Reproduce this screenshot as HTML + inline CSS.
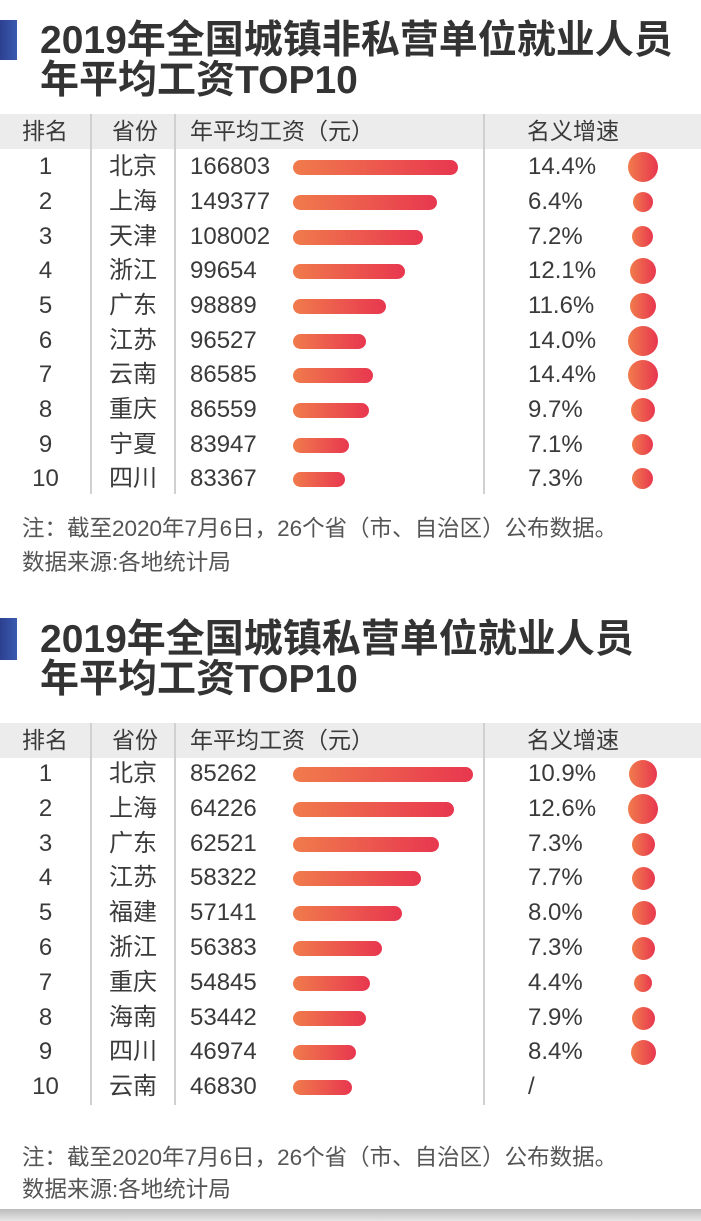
<!DOCTYPE html>
<html><head><meta charset="utf-8"><style>
body{margin:0;width:701px;height:1221px;background:#fff;position:relative;overflow:hidden;font-family:"Liberation Sans","Noto Sans CJK SC",sans-serif;color:#3a3a3a}
.a{position:absolute}
.tb{position:absolute;left:0;width:17px;background:linear-gradient(90deg,#2d3f8f,#3a5bb0)}
.tt{position:absolute;left:40px;font-size:39px;font-weight:bold;line-height:40px;color:#333;letter-spacing:0px}
.hd{position:absolute;left:0;width:701px;height:35px;background:#ececec;font-size:23px;line-height:35px}
.vl{position:absolute;width:2px;background:#d0d0d0}
.r{position:absolute;left:0;width:701px;height:34px;line-height:34px;font-size:24px}
.r span{position:absolute;top:0}
.rk{left:0;width:91px;text-align:center}
.pv{left:91px;width:84px;text-align:center}
.nm{left:190px}
.pc{left:528px}
.bar{position:absolute;top:10px;left:293px;height:15px;border-radius:8px;background:linear-gradient(90deg,#f07b4c,#e8374f)}
.c{position:absolute;border-radius:50%;background:linear-gradient(90deg,#f07b4c,#e8374f)}
.nt{position:absolute;left:22px;font-size:22.5px;color:#555;line-height:26px}
</style></head><body>
<div class="tb" style="top:20px;height:40px"></div>
<div class="tt" style="top:21px">2019年全国城镇非私营单位就业人员<br>年平均工资TOP10</div>
<div class="hd" style="top:114px"><span class="a" style="left:22px">排名</span><span class="a" style="left:112px">省份</span><span class="a" style="left:190px">年平均工资（元）</span><span class="a" style="left:527px">名义增速</span></div>
<div class="vl" style="left:90px;top:114px;height:380px"></div>
<div class="vl" style="left:174px;top:114px;height:380px"></div>
<div class="vl" style="left:483px;top:114px;height:380px"></div>

<div class="r" style="top:150px"><span class="rk">1</span><span class="pv">北京</span><span class="nm">166803</span><div class="bar" style="width:165px"></div><span class="pc">14.4%</span><div class="c" style="left:628px;top:2px;width:30px;height:30px"></div></div>
<div class="r" style="top:185px"><span class="rk">2</span><span class="pv">上海</span><span class="nm">149377</span><div class="bar" style="width:144px"></div><span class="pc">6.4%</span><div class="c" style="left:633px;top:7px;width:20px;height:20px"></div></div>
<div class="r" style="top:220px"><span class="rk">3</span><span class="pv">天津</span><span class="nm">108002</span><div class="bar" style="width:130px"></div><span class="pc">7.2%</span><div class="c" style="left:632px;top:6px;width:21px;height:21px"></div></div>
<div class="r" style="top:254px"><span class="rk">4</span><span class="pv">浙江</span><span class="nm">99654</span><div class="bar" style="width:112px"></div><span class="pc">12.1%</span><div class="c" style="left:630px;top:4px;width:26px;height:26px"></div></div>
<div class="r" style="top:289px"><span class="rk">5</span><span class="pv">广东</span><span class="nm">98889</span><div class="bar" style="width:93px"></div><span class="pc">11.6%</span><div class="c" style="left:630px;top:4px;width:26px;height:26px"></div></div>
<div class="r" style="top:324px"><span class="rk">6</span><span class="pv">江苏</span><span class="nm">96527</span><div class="bar" style="width:73px"></div><span class="pc">14.0%</span><div class="c" style="left:628px;top:2px;width:30px;height:30px"></div></div>
<div class="r" style="top:358px"><span class="rk">7</span><span class="pv">云南</span><span class="nm">86585</span><div class="bar" style="width:80px"></div><span class="pc">14.4%</span><div class="c" style="left:628px;top:2px;width:30px;height:30px"></div></div>
<div class="r" style="top:393px"><span class="rk">8</span><span class="pv">重庆</span><span class="nm">86559</span><div class="bar" style="width:76px"></div><span class="pc">9.7%</span><div class="c" style="left:631px;top:5px;width:24px;height:24px"></div></div>
<div class="r" style="top:428px"><span class="rk">9</span><span class="pv">宁夏</span><span class="nm">83947</span><div class="bar" style="width:56px"></div><span class="pc">7.1%</span><div class="c" style="left:632px;top:6px;width:21px;height:21px"></div></div>
<div class="r" style="top:462px"><span class="rk">10</span><span class="pv">四川</span><span class="nm">83367</span><div class="bar" style="width:52px"></div><span class="pc">7.3%</span><div class="c" style="left:632px;top:6px;width:21px;height:21px"></div></div>

<div class="nt" style="top:516px">注：截至2020年7月6日，26个省（市、自治区）公布数据。</div>
<div class="nt" style="top:550px">数据来源:各地统计局</div>

<div class="tb" style="top:618px;height:42px"></div>
<div class="tt" style="top:620px">2019年全国城镇私营单位就业人员<br>年平均工资TOP10</div>
<div class="hd" style="top:723px"><span class="a" style="left:22px">排名</span><span class="a" style="left:112px">省份</span><span class="a" style="left:190px">年平均工资（元）</span><span class="a" style="left:527px">名义增速</span></div>
<div class="vl" style="left:90px;top:723px;height:382px"></div>
<div class="vl" style="left:174px;top:723px;height:382px"></div>
<div class="vl" style="left:483px;top:723px;height:382px"></div>

<div class="r" style="top:757px"><span class="rk">1</span><span class="pv">北京</span><span class="nm">85262</span><div class="bar" style="width:180px"></div><span class="pc">10.9%</span><div class="c" style="left:629px;top:3px;width:28px;height:28px"></div></div>
<div class="r" style="top:792px"><span class="rk">2</span><span class="pv">上海</span><span class="nm">64226</span><div class="bar" style="width:161px"></div><span class="pc">12.6%</span><div class="c" style="left:628px;top:2px;width:30px;height:30px"></div></div>
<div class="r" style="top:827px"><span class="rk">3</span><span class="pv">广东</span><span class="nm">62521</span><div class="bar" style="width:146px"></div><span class="pc">7.3%</span><div class="c" style="left:632px;top:6px;width:23px;height:23px"></div></div>
<div class="r" style="top:861px"><span class="rk">4</span><span class="pv">江苏</span><span class="nm">58322</span><div class="bar" style="width:128px"></div><span class="pc">7.7%</span><div class="c" style="left:632px;top:6px;width:23px;height:23px"></div></div>
<div class="r" style="top:896px"><span class="rk">5</span><span class="pv">福建</span><span class="nm">57141</span><div class="bar" style="width:109px"></div><span class="pc">8.0%</span><div class="c" style="left:632px;top:5px;width:24px;height:24px"></div></div>
<div class="r" style="top:931px"><span class="rk">6</span><span class="pv">浙江</span><span class="nm">56383</span><div class="bar" style="width:89px"></div><span class="pc">7.3%</span><div class="c" style="left:632px;top:6px;width:23px;height:23px"></div></div>
<div class="r" style="top:966px"><span class="rk">7</span><span class="pv">重庆</span><span class="nm">54845</span><div class="bar" style="width:77px"></div><span class="pc">4.4%</span><div class="c" style="left:634px;top:8px;width:18px;height:18px"></div></div>
<div class="r" style="top:1001px"><span class="rk">8</span><span class="pv">海南</span><span class="nm">53442</span><div class="bar" style="width:73px"></div><span class="pc">7.9%</span><div class="c" style="left:632px;top:6px;width:23px;height:23px"></div></div>
<div class="r" style="top:1035px"><span class="rk">9</span><span class="pv">四川</span><span class="nm">46974</span><div class="bar" style="width:63px"></div><span class="pc">8.4%</span><div class="c" style="left:631px;top:5px;width:25px;height:25px"></div></div>
<div class="r" style="top:1070px"><span class="rk">10</span><span class="pv">云南</span><span class="nm">46830</span><div class="bar" style="width:59px"></div><span class="pc">/</span></div>

<div class="nt" style="top:1145px">注：截至2020年7月6日，26个省（市、自治区）公布数据。</div>
<div class="nt" style="top:1177px">数据来源:各地统计局</div>
<div class="a" style="left:0;top:1209px;width:701px;height:12px;background:linear-gradient(#bbb,#e6e6e6)"></div>
</body></html>
